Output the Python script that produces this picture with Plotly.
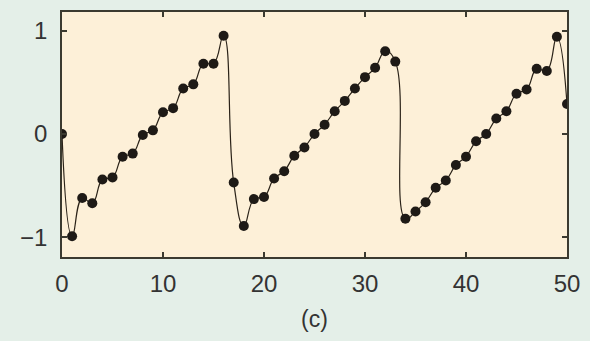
import plotly.graph_objects as go

x_vals = list(range(51))
y_vals = [0.0, -0.99, -0.62, -0.67, -0.44, -0.42, -0.22, -0.19, -0.01, 0.035,
          0.21, 0.25, 0.44, 0.48, 0.68, 0.68, 0.95, -0.47, -0.89, -0.63,
          -0.61, -0.43, -0.36, -0.21, -0.13, 0.0, 0.09, 0.22, 0.32, 0.44,
          0.55, 0.64, 0.80, 0.70, -0.82, -0.75, -0.66, -0.52, -0.45, -0.30,
          -0.22, -0.07, 0.0, 0.15, 0.22, 0.39, 0.43, 0.63, 0.61, 0.94, 0.29]
x_ticks = [0, 10, 20, 30, 40, 50]
y_ticks = [-1, 0, 1]
y_tick_text = ["\u22121", "0", "1"]
caption = "(c)"

fig = go.Figure()
fig.add_trace(go.Scatter(
    x=x_vals, y=y_vals, mode="lines",
    line=dict(color="#2a2218", width=1.2, shape="spline", smoothing=1.3),
    hoverinfo="skip", showlegend=False))
fig.add_trace(go.Scatter(
    x=x_vals, y=y_vals, mode="markers",
    marker=dict(color="#1e1a16", size=10),
    showlegend=False))

axis_common = dict(showgrid=False, zeroline=False, ticks="inside", ticklen=5,
                   tickwidth=1.5, tickcolor="#3b3a30", mirror="allticks",
                   showline=True, linecolor="#3b3a30", linewidth=1.8,
                   tickfont=dict(family="Liberation Sans, Arial", size=24, color="#333333"))
fig.update_xaxes(range=[0, 50], tickvals=x_ticks, ticklabelstandoff=4, **axis_common)
fig.update_yaxes(range=[-1.19, 1.18], tickvals=y_ticks, ticktext=y_tick_text,
                 ticklabelstandoff=8, **axis_common)

fig.add_annotation(text=caption, xref="paper", yref="paper", x=0.5, y=-0.19,
                   xanchor="center", yanchor="top", showarrow=False,
                   font=dict(family="Liberation Sans, Arial", size=23, color="#333333"))

fig.update_layout(width=590, height=341,
                  margin=dict(l=62, r=15, t=10, b=84),
                  paper_bgcolor="#e4efe8", plot_bgcolor="#fdf0d8")
fig.write_html("out.html")
